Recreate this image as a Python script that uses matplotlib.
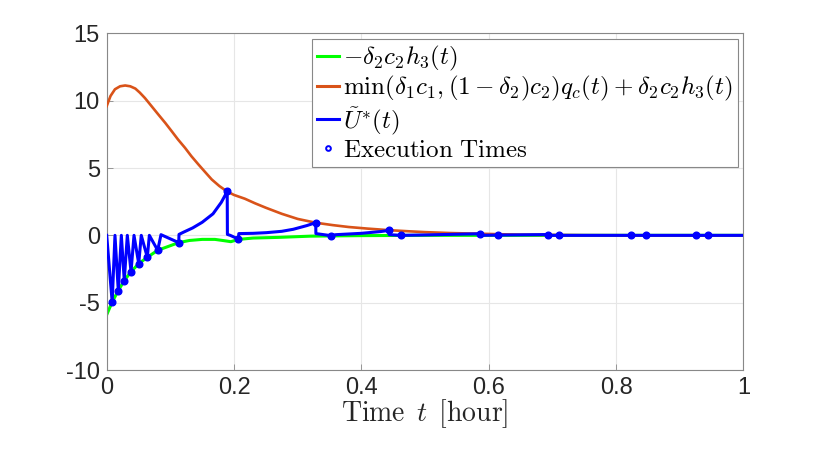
import matplotlib
matplotlib.use("Agg")
import matplotlib.pyplot as plt
from matplotlib.lines import Line2D

plt.rcParams['mathtext.fontset'] = 'cm'
plt.rcParams['axes.unicode_minus'] = False
plt.rcParams['font.family'] = ['Liberation Sans', 'DejaVu Sans']

# ---- data ----
green_t = [0.0, 0.0086, 0.0182, 0.0276, 0.0382, 0.0503, 0.0638, 0.0801, 0.1131,
           0.13, 0.15, 0.17, 0.185, 0.195, 0.207, 0.23, 0.27, 0.32, 0.4, 0.5, 1.0]
green_v = [-5.9, -4.95, -4.1, -3.36, -2.7, -2.1, -1.63, -1.11, -0.54,
           -0.38, -0.3, -0.3, -0.4, -0.47, -0.3, -0.2, -0.15, -0.06, -0.02, 0.0, 0.0]

orange_t = [0.0, 0.006, 0.013, 0.021, 0.029, 0.037, 0.045, 0.052, 0.06, 0.07, 0.081,
            0.092, 0.102, 0.112, 0.123, 0.133, 0.144, 0.155, 0.165, 0.177, 0.189,
            0.2, 0.217, 0.233, 0.25, 0.275, 0.30, 0.328, 0.355, 0.38, 0.41, 0.445,
            0.475, 0.5, 0.54, 0.586, 0.62, 0.65, 0.7, 0.75, 0.85, 1.0]
orange_v = [9.6, 10.35, 10.85, 11.07, 11.13, 11.07, 10.9, 10.6, 10.2, 9.62, 8.98,
            8.35, 7.74, 7.12, 6.5, 5.88, 5.27, 4.68, 4.15, 3.66, 3.26,
            3.0, 2.72, 2.38, 2.05, 1.6, 1.22, 0.94, 0.76, 0.62, 0.5, 0.38,
            0.3, 0.24, 0.17, 0.12, 0.08, 0.05, 0.03, 0.01, 0.0, 0.0]

blue_t = [0.0, 0.0086, 0.013, 0.0182, 0.023, 0.0276, 0.0324, 0.0382, 0.0429,
          0.0503, 0.0543, 0.0638, 0.067, 0.0801, 0.0853, 0.1131, 0.1136,
          0.12, 0.135, 0.15, 0.167, 0.18, 0.1893, 0.1896, 0.194, 0.207,
          0.2075, 0.23, 0.251, 0.275, 0.293, 0.314, 0.3283, 0.3286, 0.3518,
          0.36, 0.4, 0.43, 0.4434, 0.4438, 0.4618, 0.5, 0.5863, 0.5866, 0.6146,
          0.6936, 0.694, 0.7109, 0.823, 0.8466, 0.9256, 0.944, 1.0]
blue_v = [0.0, -4.95, 0.0, -4.1, 0.0, -3.36, 0.0, -2.7, 0.0,
          -2.1, 0.0, -1.63, 0.0, -1.11, 0.05, -0.54, 0.07,
          0.22, 0.55, 0.97, 1.6, 2.45, 3.26, 0.07, 0.0, -0.28,
          0.13, 0.15, 0.2, 0.3, 0.45, 0.72, 0.94, 0.13, -0.02,
          0.05, 0.15, 0.28, 0.37, 0.05, 0.0, 0.03, 0.12, 0.0, 0.02,
          0.06, 0.0, 0.0, 0.0, 0.0, 0.0, 0.0, 0.0]

exec_t = [0.0086, 0.0182, 0.0276, 0.0382, 0.0503, 0.0638, 0.0801, 0.1131,
          0.1893, 0.207, 0.3283, 0.3518, 0.4434, 0.4618, 0.5863, 0.6146,
          0.6936, 0.7109, 0.823, 0.8466, 0.9256, 0.944]
exec_v = [-4.95, -4.1, -3.36, -2.7, -2.1, -1.63, -1.11, -0.54,
          3.26, -0.28, 0.94, -0.02, 0.37, 0.0, 0.12, 0.02,
          0.06, 0.0, 0.0, 0.0, 0.0, 0.0]

x_ticks = [0, 0.2, 0.4, 0.6, 0.8, 1]
x_tick_labels = ['0', '0.2', '0.4', '0.6', '0.8', '1']
y_ticks = [-10, -5, 0, 5, 10, 15]
y_tick_labels = ['-10', '-5', '0', '5', '10', '15']

labels = [r'$-\delta_2 c_2 h_3(t)$',
          r'$\min(\delta_1 c_1, (1-\delta_2)c_2)q_c(t)+\delta_2 c_2 h_3(t)$',
          r'$\tilde{U}^{*}(t)$',
          r'$\mathrm{Execution\ Times}$']
xlabel = r'$\mathrm{Time}\ \,t\ \,\mathrm{[hour]}$'

# ---- figure ----
fig = plt.figure(figsize=(8.22, 4.51), dpi=100)
ax = fig.add_axes([0.1298, 0.1796, 0.7745, 0.7464])

green_c = '#00ff00'
orange_c = '#D95319'
blue_c = '#0000ff'

ax.plot(green_t, green_v, color=green_c, lw=2.2, zorder=2)
ax.plot(orange_t, orange_v, color=orange_c, lw=1.9, zorder=3)
ax.plot(blue_t, blue_v, color=blue_c, lw=2.2, zorder=4)
ax.plot(exec_t, exec_v, 'o', color=blue_c, ms=4.8, zorder=5)

ax.set_xlim(0, 1)
ax.set_ylim(-10, 15)
ax.set_xticks(x_ticks)
ax.set_xticklabels(x_tick_labels)
ax.set_yticks(y_ticks)
ax.set_yticklabels(y_tick_labels)
ax.tick_params(direction='in', length=4, width=0.6, colors='#888888',
               labelcolor='#262626', labelsize=17, pad=5)
ax.grid(True, color='#e6e6e6', lw=0.8)
ax.set_axisbelow(True)
for s in ax.spines.values():
    s.set_color('#888888')
    s.set_linewidth(0.8)

ax.set_xlabel(xlabel, fontsize=20, color='#262626', labelpad=-1)

handles = [Line2D([], [], color=green_c, lw=2.2),
           Line2D([], [], color=orange_c, lw=2.2),
           Line2D([], [], color=blue_c, lw=2.2),
           Line2D([], [], ls='none', marker='o', ms=3.4, mfc='none',
                  mec=blue_c, mew=1.4)]
leg = fig.legend(handles, labels, loc='upper right',
                 bbox_to_anchor=(738 / 822, 1 - 39 / 451),
                 fontsize=18, frameon=True, fancybox=False,
                 handlelength=0.9, handletextpad=0.15, borderpad=0.2,
                 labelspacing=0.05, borderaxespad=0.0)
leg.get_frame().set_edgecolor('#888888')
leg.get_frame().set_linewidth(0.8)
leg.get_frame().set_alpha(1.0)

fig.savefig('out.png', dpi=100)
